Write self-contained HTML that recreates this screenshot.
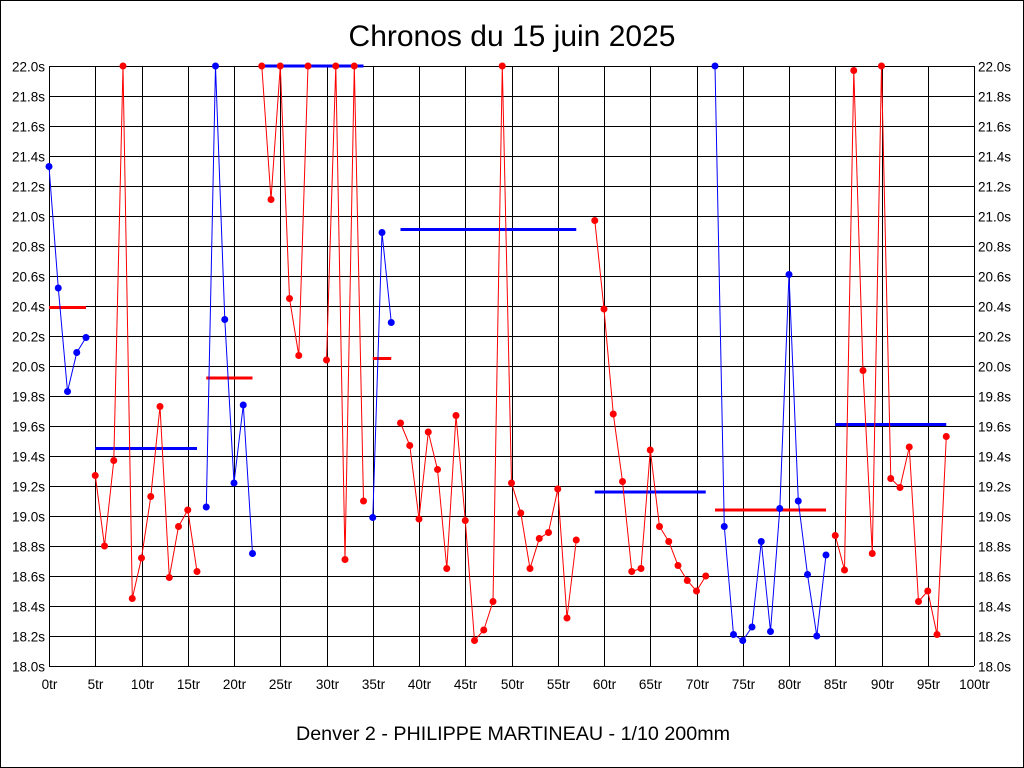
<!DOCTYPE html>
<html><head><meta charset="utf-8"><style>
html,body{margin:0;padding:0;background:#fff}
svg{display:block;font-family:"Liberation Sans",sans-serif}
</style></head><body>
<svg id="chart" width="1024" height="768" viewBox="0 0 1024 768">
<rect x="0.5" y="0.5" width="1023" height="767" fill="#fff" stroke="#000"/>
<text x="512" y="46" text-anchor="middle" font-size="30">Chronos du 15 juin 2025</text>
<text x="513" y="740" text-anchor="middle" font-size="19.7">Denver 2 - PHILIPPE MARTINEAU - 1/10 200mm</text>
<g id="grid"></g>
<g id="avgs"></g>
<g id="series"></g>
</svg>
<script>
const segStarts = [0,5,17,23,30,35,38,59,72,85];
const segColors = ["blue","red","blue","red","red","blue","red","red","blue","red"];
const segValues = [
 [21.33,20.52,19.83,20.09,20.19],
 [19.27,18.80,19.37,22.0,18.45,18.72,19.13,19.73,18.59,18.93,19.04,18.63],
 [19.06,22.0,20.31,19.22,19.74,18.75],
 [22.0,21.11,22.0,20.45,20.07,22.0],
 [20.04,22.0,18.71,22.0,19.10],
 [18.99,20.89,20.29],
 [19.62,19.47,18.98,19.56,19.31,18.65,19.67,18.97,18.17,18.24,18.43,22.0,19.22,19.02,18.65,18.85,18.89,19.18,18.32,18.84],
 [20.97,20.38,19.68,19.23,18.63,18.65,19.44,18.93,18.83,18.67,18.57,18.50,18.60],
 [22.0,18.93,18.21,18.17,18.26,18.83,18.23,19.05,20.61,19.10,18.61,18.20,18.74],
 [18.87,18.64,21.97,19.97,18.75,22.0,19.25,19.19,19.46,18.43,18.50,18.21,19.53]
];
const avgFrom = [0,5,17,23,35,38,59,72,85];
const avgTo = [4,16,22,34,37,57,71,84,97];
const avgVal = [20.39,19.45,19.92,22.0,20.05,20.91,19.16,19.04,19.61];
const avgColor = ["red","blue","red","blue","red","blue","blue","red","blue"];
const yTicks = [18.0,18.2,18.4,18.6,18.8,19.0,19.2,19.4,19.6,19.8,20.0,20.2,20.4,20.6,20.8,21.0,21.2,21.4,21.6,21.8,22.0];
const xTicks = [0,5,10,15,20,25,30,35,40,45,50,55,60,65,70,75,80,85,90,95,100];

const X0=49,X1=974,Y0=666,Y1=66;
const xs = l => X0 + (X1-X0)*l/100;
const ys = v => Y0 - (Y0-Y1)*(v-18)/4;
const NS="http://www.w3.org/2000/svg";
function mk(tag,attrs,parent){const e=document.createElementNS(NS,tag);for(const k in attrs)e.setAttribute(k,attrs[k]);parent.appendChild(e);return e;}
const grid=document.getElementById('grid');
yTicks.forEach(v=>{
 const y=Math.round(ys(v))+0.5;
 const l=mk('line',{x1:X0,x2:X1,y1:y,y2:y,stroke:'#000','stroke-width':1},grid);
 
 
 const lab=v.toFixed(1)+'s';
 const t1=mk('text',{x:X0-4,y:y+5,'text-anchor':'end','font-size':13.5},grid);t1.textContent=lab;
 
 
 const t2=mk('text',{x:X1+4,y:y+5,'text-anchor':'start','font-size':13.5},grid);t2.textContent=lab;
 
 
});
xTicks.forEach(l=>{
 const x=Math.round(xs(l))+0.5;
 const g=mk('line',{x1:x,x2:x,y1:Y1,y2:Y0,stroke:'#000','stroke-width':1},grid);
 
 
 const t=mk('text',{x:x,y:Y0+23,'text-anchor':'middle','font-size':13.5},grid);t.textContent=l+'tr';
 
 
});
const avgs=document.getElementById('avgs');
avgFrom.forEach((f,i)=>{
 const y=ys(avgVal[i]);
 const l=mk('line',{x1:xs(f),x2:xs(avgTo[i]),y1:y,y2:y,stroke:avgColor[i],'stroke-width':3},avgs);
 
 
});
const series=document.getElementById('series');
segValues.forEach((vals,i)=>{
 const c=segColors[i];
 const pts=vals.map((v,j)=>xs(segStarts[i]+j).toFixed(1)+','+ys(v).toFixed(1)).join(' ');
 const pl=mk('polyline',{points:pts,fill:'none',stroke:c,'stroke-width':1},series);
 
 
 vals.forEach((v,j)=>{
  const p=mk('circle',{cx:xs(segStarts[i]+j),cy:ys(v),r:3.5,fill:c},series);
  
  
 });
});
</script>
</body></html>
